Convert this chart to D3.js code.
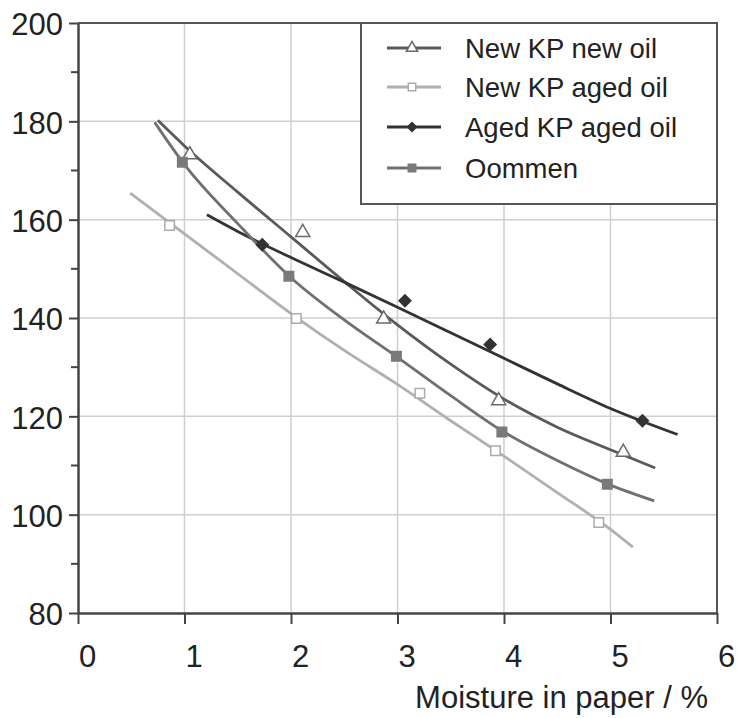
<!DOCTYPE html>
<html>
<head>
<meta charset="utf-8">
<script src="https://cdn.jsdelivr.net/npm/d3@7"></script>
<style>
  body { margin: 0; background: #fff; }
  text { font-family: "Liberation Sans", Arial, Helvetica, sans-serif; fill: #222; }
</style>
</head>
<body>
<div id="chart"></div>
<script>
// series names (legend order)
var seriesNames = ["New KP new oil", "New KP aged oil", "Aged KP aged oil", "Oommen"];

// measured points (moisture %, value)
var newKpNewOilPoints = [[1.05, 173.2], [2.11, 157.4], [2.87, 139.8], [3.95, 123.2], [5.12, 112.7]];
var newKpAgedOilPoints = [[0.86, 158.8], [2.05, 139.9], [3.21, 124.7], [3.92, 113.0], [4.89, 98.4]];
var agedKpAgedOilPoints = [[1.73, 154.9], [3.07, 143.5], [3.87, 134.6], [5.30, 119.1]];
var oommenPoints = [[0.98, 171.7], [1.98, 148.5], [2.99, 132.2], [3.98, 116.8], [4.97, 106.2]];

// fitted curves
var newKpNewOilCurve = [[0.75, 180.2], [1.0, 175.0], [1.5, 165.6], [2.0, 156.5], [2.5, 147.4], [3.0, 138.6],
  [3.5, 130.6], [4.0, 123.5], [4.5, 117.8], [5.0, 113.2], [5.42, 109.5]];
var newKpAgedOilCurve = [[0.49, 165.4], [1.0, 157.1], [1.5, 149.0], [2.0, 140.9], [2.5, 133.4], [3.0, 126.5],
  [3.5, 119.1], [4.0, 111.9], [4.5, 104.5], [5.0, 97.0], [5.21, 93.4]];
var agedKpAgedOilCurve = [[1.21, 161.0], [1.5, 157.6], [2.0, 152.3], [2.5, 147.3], [3.0, 142.2], [3.5, 137.0],
  [4.0, 131.8], [4.5, 126.6], [5.0, 121.6], [5.63, 116.3]];
var oommenCurve = [[0.72, 179.8], [1.0, 171.2], [1.5, 159.2], [2.0, 148.2], [2.5, 139.6], [3.0, 132.0],
  [3.5, 124.2], [4.0, 116.8], [4.5, 111.0], [5.0, 106.0], [5.41, 102.8]];

// ticks
var xTicks = [0, 1, 2, 3, 4, 5, 6];
var yTicks = [80, 100, 120, 140, 160, 180, 200];
var yMinorTicks = [90, 110, 130, 150, 170, 190];

var svgWidth = 737;
var svgHeight = 718;
var margin = { top: 23, right: 20, bottom: 105, left: 78 };
var width = svgWidth - margin.left - margin.right;
var height = svgHeight - margin.top - margin.bottom;

var svg = d3.select("#chart")
  .append("svg")
  .attr("width", svgWidth)
  .attr("height", svgHeight);

var chartGroup = svg.append("g")
  .attr("transform", `translate(${margin.left}, ${margin.top})`);

var xScale = d3.scaleLinear().domain([0, 6]).range([0, width]);
var yScale = d3.scaleLinear().domain([80, 200]).range([height, 0]);

// grid
chartGroup.append("g").selectAll("line")
  .data(xTicks.slice(1, -1))
  .enter()
  .append("line")
  .attr("x1", d => xScale(d)).attr("x2", d => xScale(d))
  .attr("y1", 0).attr("y2", height)
  .attr("stroke", "#cfcfcf").attr("stroke-width", 1.5);

chartGroup.append("g").selectAll("line")
  .data(yTicks.slice(1, -1))
  .enter()
  .append("line")
  .attr("x1", 0).attr("x2", width)
  .attr("y1", d => yScale(d)).attr("y2", d => yScale(d))
  .attr("stroke", "#cfcfcf").attr("stroke-width", 1.5);

// frame top / right
chartGroup.append("path")
  .attr("d", `M0,0H${width}V${height}`)
  .attr("fill", "none")
  .attr("stroke", "#555")
  .attr("stroke-width", 2);

// axes
var leftAxis = d3.axisLeft(yScale).tickValues(yTicks).tickFormat(d3.format("d"))
  .tickSize(9).tickSizeOuter(0).tickPadding(6);
var bottomAxis = d3.axisBottom(xScale).tickValues(xTicks).tickFormat(d3.format("d"))
  .tickSize(11).tickSizeOuter(0).tickPadding(21);

var yAxis = chartGroup.append("g").call(leftAxis);
var xAxis = chartGroup.append("g")
  .attr("transform", `translate(0, ${height})`)
  .call(bottomAxis);

[xAxis, yAxis].forEach(function(ax) {
  ax.select(".domain").attr("stroke", "#444").attr("stroke-width", 2.5);
  ax.selectAll(".tick line").attr("stroke", "#444").attr("stroke-width", 2);
  ax.selectAll(".tick text")
    .style("font-family", '"Liberation Sans", Arial, sans-serif')
    .style("font-size", "31px")
    .attr("fill", "#222");
});
xAxis.selectAll(".tick text").attr("dx", 9);
yAxis.selectAll(".tick text").attr("dy", "0.38em");

chartGroup.append("g").selectAll("line")
  .data(yMinorTicks)
  .enter()
  .append("line")
  .attr("x1", -7).attr("x2", 0)
  .attr("y1", d => yScale(d)).attr("y2", d => yScale(d))
  .attr("stroke", "#444").attr("stroke-width", 2);

// x axis title
chartGroup.append("text")
  .attr("x", 630)
  .attr("y", 685)
  .attr("text-anchor", "end")
  .style("font-size", "31px")
  .text("Moisture in paper / %");

// series
var series = [
  { name: seriesNames[0], curve: newKpNewOilCurve, points: newKpNewOilPoints, color: "#5a5a5a", marker: "triangle", fill: "#fff", mstroke: "#6a6a6a" },
  { name: seriesNames[1], curve: newKpAgedOilCurve, points: newKpAgedOilPoints, color: "#b0b0b0", marker: "square", fill: "#fff", mstroke: "#aaa" },
  { name: seriesNames[2], curve: agedKpAgedOilCurve, points: agedKpAgedOilPoints, color: "#333", marker: "diamond", fill: "#333", mstroke: "#333" },
  { name: seriesNames[3], curve: oommenCurve, points: oommenPoints, color: "#707070", marker: "square", fill: "#7a7a7a", mstroke: "#7a7a7a" }
];

var symbolTypes = {
  triangle: d3.symbol().type(d3.symbolTriangle).size(85),
  square: d3.symbol().type(d3.symbolSquare).size(90),
  diamond: d3.symbol().type(d3.symbolSquare).size(70)
};

var line = d3.line()
  .x(d => xScale(d[0]))
  .y(d => yScale(d[1]))
  .curve(d3.curveMonotoneX);

series.forEach(function(s) {
  chartGroup.append("path")
    .datum(s.curve)
    .attr("d", line)
    .attr("fill", "none")
    .attr("stroke", s.color)
    .attr("stroke-width", 2.8);
});

series.forEach(function(s) {
  chartGroup.selectAll(null)
    .data(s.points)
    .enter()
    .append("path")
    .attr("d", symbolTypes[s.marker])
    .attr("transform", d => `translate(${xScale(d[0])}, ${yScale(d[1])})` + (s.marker === "diamond" ? " rotate(45)" : ""))
    .attr("fill", s.fill)
    .attr("stroke", s.mstroke)
    .attr("stroke-width", 1.5);
});

// legend
var legend = chartGroup.append("g")
  .attr("transform", `translate(${361 - margin.left}, 0)`);

legend.append("rect")
  .attr("x", 0).attr("y", 0)
  .attr("width", width - (361 - margin.left))
  .attr("height", 181)
  .attr("fill", "#fff")
  .attr("stroke", "#555")
  .attr("stroke-width", 2);

var legendRows = [25, 64, 104, 145];

series.forEach(function(s, i) {
  var row = legend.append("g").attr("transform", `translate(0, ${legendRows[i]})`);
  row.append("line")
    .attr("x1", 26).attr("x2", 80)
    .attr("y1", 0).attr("y2", 0)
    .attr("stroke", s.color)
    .attr("stroke-width", 2.8);
  row.append("path")
    .attr("d", d3.symbol().type(s.marker === "triangle" ? d3.symbolTriangle : d3.symbolSquare).size(s.marker === "diamond" ? 40 : 55))
    .attr("transform", "translate(51, 0)" + (s.marker === "diamond" ? " rotate(45)" : ""))
    .attr("fill", s.fill)
    .attr("stroke", s.mstroke)
    .attr("stroke-width", 1.5);
  row.append("text")
    .attr("x", 104)
    .attr("y", 0)
    .attr("dy", "0.36em")
    .style("font-size", "27.5px")
    .text(s.name);
});
</script>
</body>
</html>
